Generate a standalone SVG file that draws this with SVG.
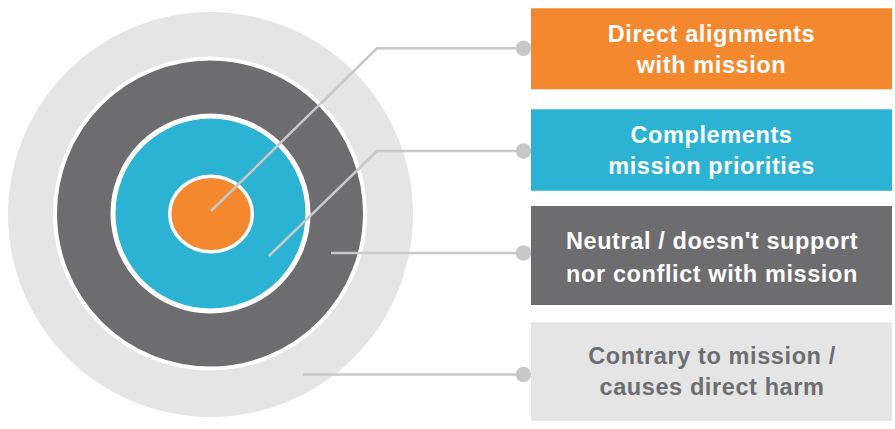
<svg xmlns="http://www.w3.org/2000/svg" width="895" height="429" viewBox="0 0 895 429">
  <style>
    .ring-white { stroke: #FFFFFF; }
    .connector { fill: none; stroke: #C8C8C8; stroke-width: 2.5; stroke-linejoin: miter; }
    .dot { fill: #C7C7C7; }
    .label { font-family: "Liberation Sans", Arial, Helvetica, sans-serif; font-weight: bold; font-size: 23.5px; letter-spacing: 0.6px; text-anchor: middle; }
    .on-dark { fill: #FFFFFF; }
    .on-light { fill: #6D6E71; }
  </style>
  <rect width="895" height="429" fill="#FFFFFF"/>

  <!-- target rings -->
  <g id="target">
    <circle id="ring-contrary" cx="210.5" cy="214.5" r="202.5" fill="#E5E5E5"/>
    <circle id="ring-neutral" cx="210" cy="213.5" r="155" fill="#6D6D70" class="ring-white" stroke-width="4"/>
    <circle id="ring-complements" cx="210.5" cy="213.5" r="97.5" fill="#2CB2D3" class="ring-white" stroke-width="5"/>
    <ellipse id="ring-direct" cx="211" cy="214" rx="41.3" ry="37.8" fill="#F3882F" class="ring-white" stroke-width="3.5"/>
  </g>

  <!-- leader lines from rings to labels -->
  <g id="connectors">
    <path class="connector" d="M211 211 L377 48.3 L523 48.3"/>
    <path class="connector" d="M269 256 L377 151 L523 151"/>
    <path class="connector" d="M331 253 L523 253"/>
    <path class="connector" d="M303 374.5 L523 374.5"/>
    <circle class="dot" cx="523.5" cy="48.3" r="7.7"/>
    <circle class="dot" cx="523.5" cy="151" r="7.7"/>
    <circle class="dot" cx="523.5" cy="253" r="7.7"/>
    <circle class="dot" cx="523.5" cy="374.5" r="7.7"/>
  </g>

  <!-- labels -->
  <g id="label-direct">
    <rect x="531" y="8.3" width="361" height="81" fill="#F3882F"/>
    <text class="label on-dark" x="711.5" y="42.3">Direct alignments</text>
    <text class="label on-dark" x="711.5" y="72.5">with mission</text>
  </g>
  <g id="label-complements">
    <rect x="531" y="109.3" width="361" height="81.5" fill="#2CB2D3"/>
    <text class="label on-dark" x="711.5" y="142.8">Complements</text>
    <text class="label on-dark" x="711.5" y="174">mission priorities</text>
  </g>
  <g id="label-neutral">
    <rect x="531" y="206" width="361" height="99" fill="#6D6D70"/>
    <text class="label on-dark" x="712" y="249.3">Neutral / doesn't support</text>
    <text class="label on-dark" x="712" y="281.7">nor conflict with mission</text>
  </g>
  <g id="label-contrary">
    <rect x="531" y="322.3" width="361" height="98.5" fill="#E5E5E5"/>
    <text class="label on-light" x="712" y="363.5">Contrary to mission /</text>
    <text class="label on-light" x="712" y="395">causes direct harm</text>
  </g>
</svg>
